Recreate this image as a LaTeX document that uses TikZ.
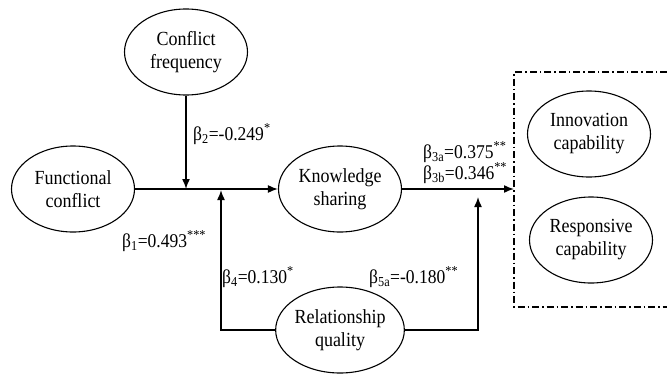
\documentclass[tikz,border=0pt]{standalone}
\usepackage{fontspec}
\setmainfont{Liberation Serif}[FakeStretch=0.9]
\usetikzlibrary{shapes.geometric,arrows.meta}
\begin{document}
\begin{tikzpicture}[x=1pt,y=-1pt,
  var/.style={ellipse,draw,line width=1.1pt,inner sep=0pt,minimum width=123pt,minimum height=86pt,align=center,font=\fontsize{20}{23}\selectfont},
  conn/.style={line width=1.5pt},
  arr/.style={conn,-{Latex[length=10pt,width=8pt]}},
  lbl/.style={font=\fontsize{19.5}{22}\selectfont,inner sep=0pt},
  dd/.style={line width=1.4pt,dash pattern=on 7pt off 3pt on 1.5pt off 3pt}]
\useasboundingbox (0,0) rectangle (667,375);
\node[var] (cf) at (186,52) {Conflict\\frequency};
\node[var] (fc) at (73,189) {Functional\\conflict};
\node[var] (ks) at (340,189) {Knowledge\\sharing};
\node[var] (rq) at (340,330) {Relationship\\quality};
\node[var] (ic) at (589,134) {Innovation\\capability};
\node[var] (rc) at (591,240) {Responsive\\capability};
\coordinate (j1) at (186,189);
\coordinate (lc) at (221,330);
\coordinate (lt) at (221,190);
\coordinate (rcn) at (478,330);
\coordinate (rt) at (478,197);
\coordinate (bx) at (514,189);
\draw[arr] (cf.south) -- (j1);
\draw[arr] (fc.east) -- (ks.west);
\draw[arr] (rq.west) -- (lc) -- (lt);
\draw[arr] (rq.east) -- (rcn) -- (rt);
\draw[arr] (ks.east) -- (bx);
\draw[dd] (667,72) -- (514,72) -- (514,307) -- (667,307);
\node[lbl,anchor=west] (l2) at (193,134) {β\textsubscript{2}=-0.249\textsuperscript{*}};
\node[lbl,anchor=west] (l1) at (122,241) {β\textsubscript{1}=0.493\textsuperscript{***}};
\node[lbl,anchor=west] (l4) at (222,277) {β\textsubscript{4}=0.130\textsuperscript{*}};
\node[lbl,anchor=west] (l5) at (369,277) {β\textsubscript{5a}=-0.180\textsuperscript{**}};
\node[lbl,anchor=west] (l3a) at (423,152) {β\textsubscript{3a}=0.375\textsuperscript{**}};
\node[lbl,anchor=west] (l3b) at (423,173) {β\textsubscript{3b}=0.346\textsuperscript{**}};
\end{tikzpicture}
\end{document}
